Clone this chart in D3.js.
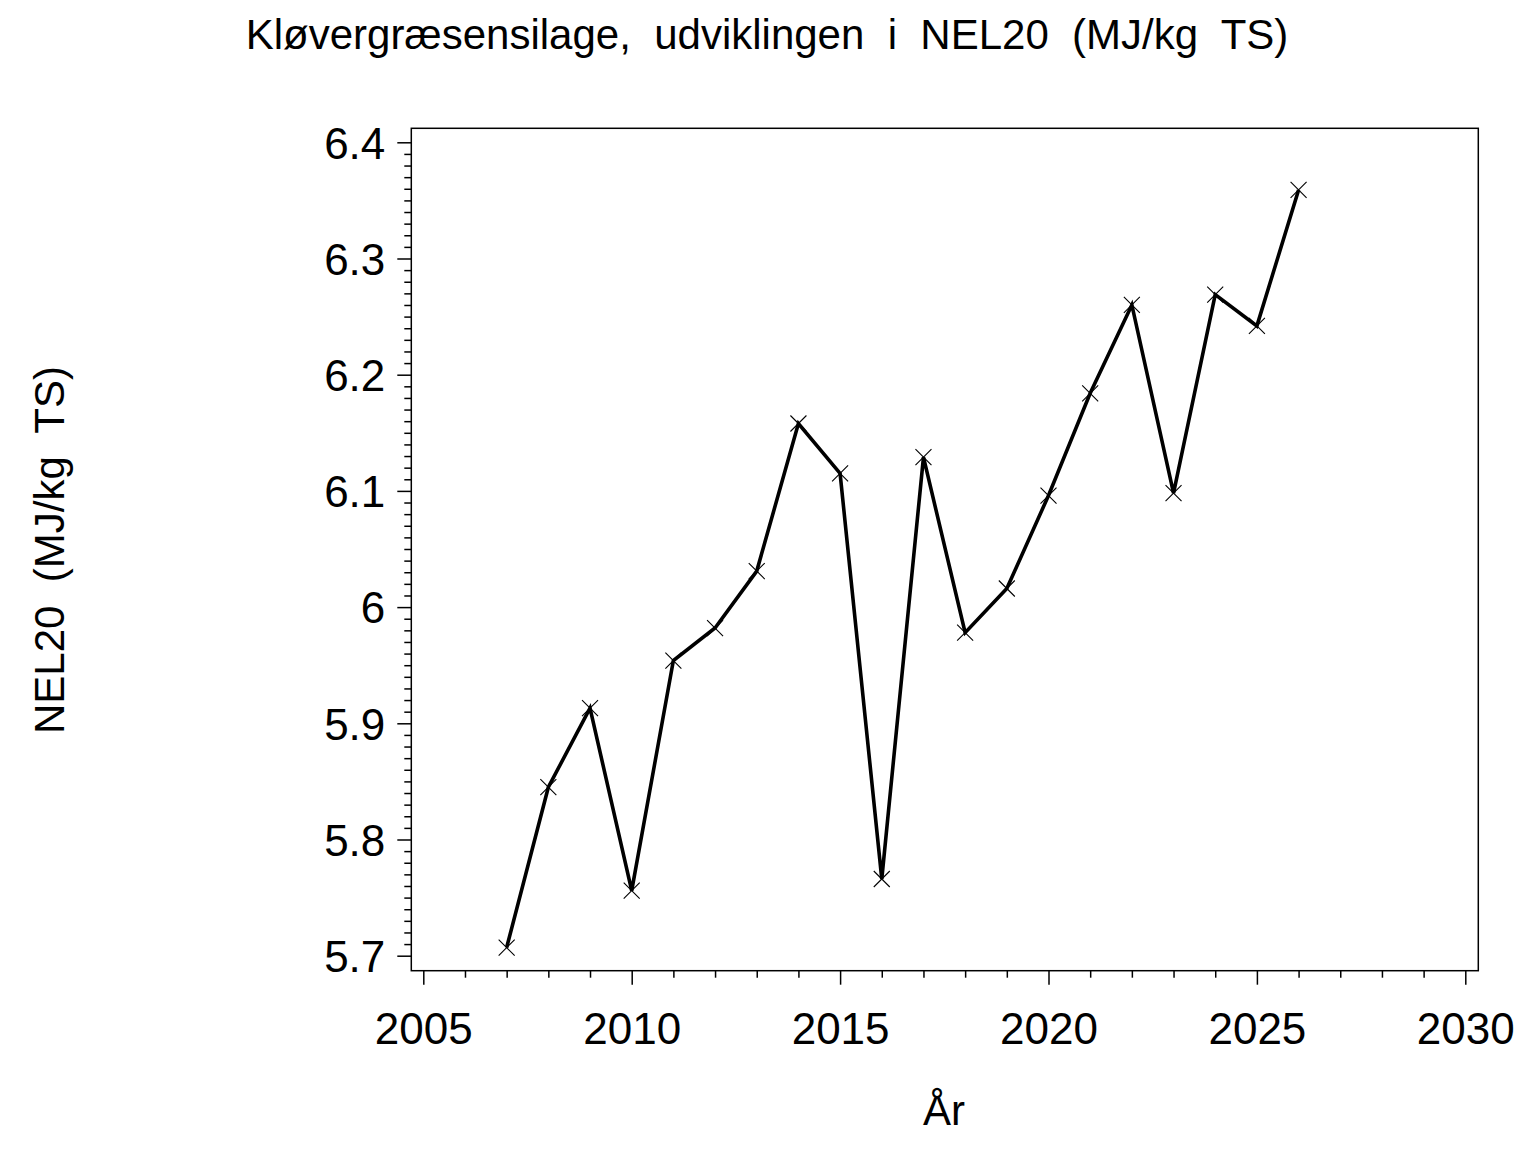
<!DOCTYPE html>
<html>
<head>
<meta charset="utf-8">
<script src="https://cdn.jsdelivr.net/npm/d3@7"></script>
<style>
  body { margin: 0; background: #fff; }
  text { font-family: "Liberation Sans", Arial, sans-serif; fill: #000; }
</style>
</head>
<body>
<svg id="drawing_region"></svg>
<script>
// data
const years = [2007, 2008, 2009, 2010, 2011, 2012, 2013, 2014, 2015, 2016,
               2017, 2018, 2019, 2020, 2021, 2022, 2023, 2024, 2025, 2026];
const nel20 = [5.707, 5.845, 5.913, 5.756, 5.954, 5.982, 6.031, 6.158, 6.115, 5.766,
               6.129, 5.978, 6.016, 6.096, 6.184, 6.260, 6.098, 6.269, 6.242, 6.359];
const xTicks = [2005, 2010, 2015, 2020, 2025, 2030];
const yTicks = [5.7, 5.8, 5.9, 6.0, 6.1, 6.2, 6.3, 6.4];
const yTickLabels = ["5.7", "5.8", "5.9", "6", "6.1", "6.2", "6.3", "6.4"];
const titleText = "Kløvergræsensilage,  udviklingen  i  NEL20  (MJ/kg  TS)";
const xLabel = "År";
const yLabel = "NEL20  (MJ/kg  TS)";

class LinePlot {
    constructor(config) {
        this.config = config;
        this.init();
    }

    init() {
        let self = this;
        const c = self.config;
        self.svg = d3.select(c.parent)
            .attr('width', c.width)
            .attr('height', c.height);

        self.xscale = d3.scaleLinear()
            .domain([2005, 2030])
            .range([423.3, 1465.3]);

        self.yscale = d3.scaleLinear()
            .domain([5.7, 6.4])
            .range([955.7, 142.3]);
    }

    render() {
        let self = this;
        const c = self.config;
        const f = c.frame;

        // frame
        self.svg.append('rect')
            .attr('x', f.left).attr('y', f.top)
            .attr('width', f.right - f.left).attr('height', f.bottom - f.top)
            .attr('fill', 'none').attr('stroke', '#000').attr('stroke-width', 1.5);

        // y axis: minor then major
        const yMinor = d3.range(570, 641).map(v => v / 100).filter(v => Math.round(v * 100) % 10 !== 0);
        self.svg.append('g')
            .attr('transform', `translate(${f.left},0)`)
            .call(d3.axisLeft(self.yscale).tickValues(yMinor).tickSize(7).tickFormat(''))
            .call(g => g.select('.domain').remove())
            .call(g => g.selectAll('line').attr('stroke-width', 1.5));

        self.svg.append('g')
            .attr('transform', `translate(${f.left},0)`)
            .call(d3.axisLeft(self.yscale).tickValues(yTicks).tickSize(14).tickPadding(12)
                .tickFormat((d, i) => yTickLabels[i]))
            .call(g => g.select('.domain').remove())
            .call(g => g.selectAll('line').attr('stroke-width', 1.5))
            .call(g => g.selectAll('text').attr('font-size', 44).attr('font-family', null).attr('dy', '0.36em'));

        // x axis
        const xMinor = d3.range(2005, 2031).filter(v => v % 5 !== 0);
        self.svg.append('g')
            .attr('transform', `translate(0,${f.bottom})`)
            .call(d3.axisBottom(self.xscale).tickValues(xMinor).tickSize(7).tickFormat(''))
            .call(g => g.select('.domain').remove())
            .call(g => g.selectAll('line').attr('stroke-width', 1.5));

        self.svg.append('g')
            .attr('transform', `translate(0,${f.bottom})`)
            .call(d3.axisBottom(self.xscale).tickValues(xTicks).tickSize(14).tickPadding(28)
                .tickFormat(d3.format('d')))
            .call(g => g.select('.domain').remove())
            .call(g => g.selectAll('line').attr('stroke-width', 1.5))
            .call(g => g.selectAll('text').attr('font-size', 44).attr('font-family', null));

        self.svg.selectAll('.tick text').style('font-family', '"Liberation Sans", Arial, sans-serif').attr('fill', '#000');

        // line
        const pts = years.map((y, i) => ({ x: y, y: nel20[i] }));
        self.line = d3.line()
            .x(d => self.xscale(d.x))
            .y(d => self.yscale(d.y));

        self.svg.append('path')
            .attr('d', self.line(pts))
            .attr('stroke', '#000')
            .attr('stroke-width', 3.6)
            .attr('stroke-linejoin', 'miter')
            .attr('fill', 'none');

        // x markers
        const m = 8;
        self.svg.append('g').selectAll('path')
            .data(pts)
            .join('path')
            .attr('d', d => {
                const px = self.xscale(d.x), py = self.yscale(d.y);
                return `M${px - m},${py - m}L${px + m},${py + m}M${px - m},${py + m}L${px + m},${py - m}`;
            })
            .attr('stroke', '#000')
            .attr('stroke-width', 1.1)
            .attr('fill', 'none');

        // titles
        self.svg.append('text')
            .attr('x', 767).attr('y', 49)
            .attr('text-anchor', 'middle')
            .attr('font-size', 42)
            .style('white-space', 'pre')
            .text(titleText);

        self.svg.append('text')
            .attr('x', 944).attr('y', 1125)
            .attr('text-anchor', 'middle')
            .attr('font-size', 42)
            .text(xLabel);

        self.svg.append('text')
            .attr('transform', 'translate(64,550) rotate(-90)')
            .attr('text-anchor', 'middle')
            .attr('font-size', 42)
            .style('white-space', 'pre')
            .text(yLabel);
    }
}

const plot = new LinePlot({
    parent: '#drawing_region',
    width: 1536,
    height: 1152,
    frame: { left: 411.3, right: 1478.3, top: 128.3, bottom: 970.7 }
});
plot.render();
</script>
</body>
</html>
